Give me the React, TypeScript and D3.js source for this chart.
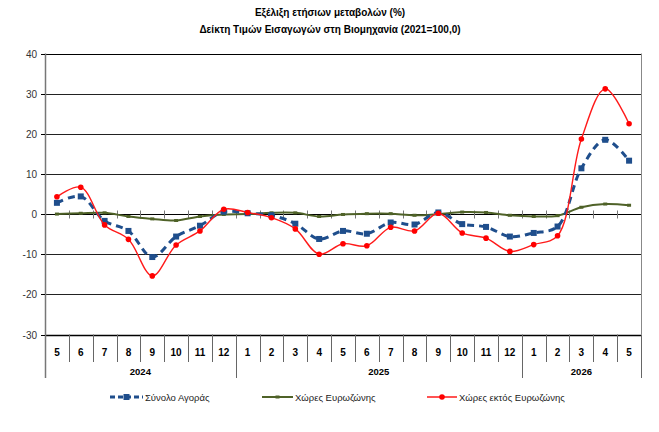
import React, { useRef, useEffect } from 'react';
import * as d3 from 'd3';

// ─── data ───────────────────────────────────────────────────

const months = [
  '5', '6', '7', '8', '9', '10', '11', '12',
  '1', '2', '3', '4', '5', '6', '7', '8', '9', '10', '11', '12',
  '1', '2', '3', '4', '5',
];

const years = [
  { label: '2024', from: 0, to: 8 },
  { label: '2025', from: 8, to: 20 },
  { label: '2026', from: 20, to: 25 },
];

const totalMarket = [
  2.8, 4.4, -1.7, -4.2, -10.7, -5.6, -2.9, 0.6,
  0.2, -0.3, -2.4, -6.2, -4.2, -4.9, -2.1, -2.6, 0.4, -2.5, -3.2, -5.6,
  -4.7, -3.1, 11.4, 18.5, 13.3,
];

const euroZone = [
  0.0, 0.2, 0.3, -0.6, -1.2, -1.6, -0.6, -0.1,
  0.0, 0.3, 0.3, -0.6, -0.1, 0.1, 0.1, -0.3, 0.0, 0.5, 0.4, -0.3,
  -0.6, -0.4, 1.7, 2.5, 2.2,
];

const nonEuroZone = [
  4.3, 6.7, -2.7, -6.3, -15.4, -7.7, -4.2, 1.2,
  0.4, -0.9, -3.7, -10.0, -7.4, -7.9, -3.3, -4.2, 0.2, -4.7, -6.0, -9.3,
  -7.6, -5.4, 18.7, 31.2, 22.5,
];

const yTicks = [-30, -20, -10, 0, 10, 20, 30, 40];

const FONT = '"Liberation Sans", Arial, sans-serif';

export default function App() {
  const svgRef = useRef<SVGSVGElement>(null);

  useEffect(() => {
    if (!svgRef.current) return;
    const svg = d3.select(svgRef.current);
    svg.selectAll('*').remove();

    const left = 45, right = 641, top = 53.5, bottom = 334.5;

    const x = d3.scaleBand<number>()
      .domain(d3.range(months.length))
      .range([left, right]);
    const cx = (i: number) => (x(i) ?? 0) + x.bandwidth() / 2;
    const y = d3.scaleLinear().domain([-30, 40]).range([bottom, top]);

    // titles
    svg.append('text')
      .attr('x', 330).attr('y', 16)
      .attr('text-anchor', 'middle')
      .attr('font-family', FONT).attr('font-size', 10).attr('font-weight', 'bold')
      .text('Εξέλιξη ετήσιων μεταβολών (%)');
    svg.append('text')
      .attr('x', 330).attr('y', 33)
      .attr('text-anchor', 'middle')
      .attr('font-family', FONT).attr('font-size', 10).attr('font-weight', 'bold')
      .text('Δείκτη Τιμών Εισαγωγών στη Βιομηχανία (2021=100,0)');

    // gridlines
    svg.append('g').selectAll('line')
      .data(yTicks)
      .enter().append('line')
      .attr('x1', left).attr('x2', right)
      .attr('y1', d => Math.round(y(d)) + 0.5).attr('y2', d => Math.round(y(d)) + 0.5)
      .attr('stroke', d => (d === 0 || d === -30 || d === 40 ? '#000' : '#222'))
      .attr('stroke-width', d => (d === -30 ? 1.5 : 1));

    // right border
    svg.append('line')
      .attr('x1', right + 0.5).attr('x2', right + 0.5)
      .attr('y1', top).attr('y2', bottom)
      .attr('stroke', '#888');

    // y axis
    svg.append('line')
      .attr('x1', left + 0.5).attr('x2', left + 0.5)
      .attr('y1', top).attr('y2', 378)
      .attr('stroke', '#777')
      .attr('stroke-width', 1.5);
    const yg = svg.append('g');
    yTicks.forEach(t => {
      const yy = Math.round(y(t)) + 0.5;
      yg.append('line')
        .attr('x1', left - 4).attr('x2', left)
        .attr('y1', yy).attr('y2', yy)
        .attr('stroke', '#000');
      yg.append('text')
        .attr('x', left - 8).attr('y', yy + 3.5)
        .attr('text-anchor', 'end')
        .attr('font-family', FONT).attr('font-size', 10)
        .attr('fill', '#333')
        .text(t);
    });

    // tick marks on zero line
    const y0 = Math.round(y(0)) + 0.5;
    d3.range(1, months.length).forEach(i => {
      const xx = Math.round(x(i) ?? 0) + 0.5;
      svg.append('line')
        .attr('x1', xx).attr('x2', xx)
        .attr('y1', y0 - 4).attr('y2', y0 + 4)
        .attr('stroke', '#777');
    });

    // category axis: months + years
    const yearStarts = new Set(years.map(d => d.from).concat([months.length]));
    d3.range(1, months.length + 1).forEach(i => {
      const xx = i === months.length ? right + 0.5 : Math.round(x(i) ?? 0) + 0.5;
      svg.append('line')
        .attr('x1', xx).attr('x2', xx)
        .attr('y1', bottom)
        .attr('y2', yearStarts.has(i) ? 378 : 362)
        .attr('stroke', '#666');
    });
    months.forEach((m, i) => {
      svg.append('text')
        .attr('x', cx(i)).attr('y', 356)
        .attr('text-anchor', 'middle')
        .attr('font-family', FONT).attr('font-size', 10).attr('font-weight', 'bold')
        .text(m);
    });
    years.forEach(yr => {
      const x1 = x(yr.from) ?? left;
      const x2 = yr.to >= months.length ? right : (x(yr.to) ?? right);
      svg.append('text')
        .attr('x', (x1 + x2) / 2).attr('y', 375)
        .attr('text-anchor', 'middle')
        .attr('font-family', FONT).attr('font-size', 9.5).attr('font-weight', 'bold')
        .text(yr.label);
    });

    const line = d3.line<number>()
      .x((_, i) => cx(i))
      .y(d => y(d))
      .curve(d3.curveCatmullRom.alpha(0.5));

    // eurozone
    svg.append('path')
      .attr('d', line(euroZone))
      .attr('fill', 'none')
      .attr('stroke', '#4F6228')
      .attr('stroke-width', 2);
    svg.append('g').selectAll('rect')
      .data(euroZone).enter().append('rect')
      .attr('x', (_, i) => cx(i) - 2).attr('y', d => y(d) - 1.5)
      .attr('width', 4).attr('height', 3)
      .attr('fill', '#4F6228');

    // total market
    svg.append('path')
      .attr('d', line(totalMarket))
      .attr('fill', 'none')
      .attr('stroke', '#1F4E8C')
      .attr('stroke-width', 3)
      .attr('stroke-dasharray', '7,5');
    svg.append('g').selectAll('rect')
      .data(totalMarket).enter().append('rect')
      .attr('x', (_, i) => cx(i) - 3).attr('y', d => y(d) - 3)
      .attr('width', 6).attr('height', 6)
      .attr('fill', '#1F4E8C');

    // non-eurozone
    svg.append('path')
      .attr('d', line(nonEuroZone))
      .attr('fill', 'none')
      .attr('stroke', '#FF1A1A')
      .attr('stroke-width', 1.4);
    svg.append('g').selectAll('circle')
      .data(nonEuroZone).enter().append('circle')
      .attr('cx', (_, i) => cx(i)).attr('cy', d => y(d))
      .attr('r', 2.8)
      .attr('fill', '#FF0000');

    // legend
    const ly = 397;
    const legend = [
      { label: 'Σύνολο Αγοράς', x0: 110, x1: 143, color: '#1F4E8C', w: 3, dash: '5,3', mark: 'square' },
      { label: 'Χώρες Ευρωζώνης', x0: 262, x1: 293, color: '#4F6228', w: 2, dash: '', mark: 'dash' },
      { label: 'Χώρες εκτός Ευρωζώνης', x0: 427, x1: 457, color: '#FF1A1A', w: 1.5, dash: '', mark: 'circle' },
    ];
    legend.forEach(l => {
      svg.append('line')
        .attr('x1', l.x0).attr('x2', l.x1)
        .attr('y1', ly).attr('y2', ly)
        .attr('stroke', l.color).attr('stroke-width', l.w)
        .attr('stroke-dasharray', l.dash || null);
      const mx = (l.x0 + l.x1) / 2;
      if (l.mark === 'square') {
        svg.append('rect').attr('x', mx - 3).attr('y', ly - 3)
          .attr('width', 6).attr('height', 6).attr('fill', l.color);
      } else if (l.mark === 'circle') {
        svg.append('circle').attr('cx', mx).attr('cy', ly).attr('r', 2.8).attr('fill', '#FF0000');
      } else {
        svg.append('rect').attr('x', mx - 2).attr('y', ly - 1.5)
          .attr('width', 4).attr('height', 3).attr('fill', l.color);
      }
      svg.append('text')
        .attr('x', l.x1 + 2).attr('y', ly + 3.5)
        .attr('font-family', FONT).attr('font-size', 9.5)
        .attr('fill', '#222')
        .text(l.label);
    });
  }, []);

  return (
    <svg
      ref={svgRef}
      width={659}
      height={432}
      style={{ position: 'absolute', left: 0, top: 0, background: '#fff' }}
    />
  );
}
